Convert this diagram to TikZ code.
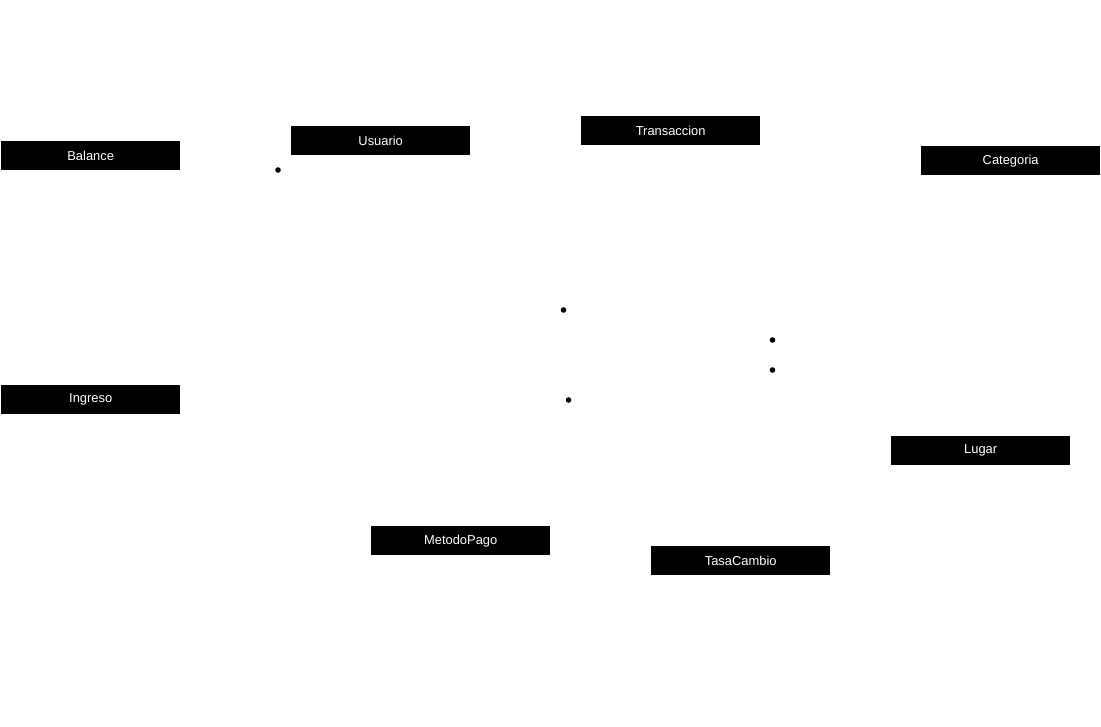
\documentclass[tikz,border=0pt]{standalone}
\usepackage{fontspec}
\setmainfont{Liberation Sans}
\begin{document}
\begin{tikzpicture}[x=1pt,y=-1pt,
  entity/.style={fill=black,text=white,minimum width=179pt,minimum height=29pt,inner sep=0pt,font=\fontsize{12.9}{14}\selectfont,anchor=north west},
  pt/.style={circle,fill=black,inner sep=0pt,minimum size=5.6pt}]
\useasboundingbox (0,0) rectangle (1101,726);
\node[entity] (balance) at (1,141) {Balance};
\node[entity] (usuario) at (291,126) {Usuario};
\node[entity] (transaccion) at (581,116) {Transaccion};
\node[entity] (categoria) at (921,146) {Categoria};
\node[entity] (ingreso) at (1,385) {Ingreso};
\node[entity] (lugar) at (891,436) {Lugar};
\node[entity] (metodopago) at (371,526) {MetodoPago};
\node[entity] (tasacambio) at (651,546) {TasaCambio};
\node[pt] (d1) at (278,170) {};
\node[pt] (d2) at (563.5,310) {};
\node[pt] (d3) at (772.5,340) {};
\node[pt] (d4) at (772.5,370) {};
\node[pt] (d5) at (568.5,400) {};
\end{tikzpicture}
\end{document}
